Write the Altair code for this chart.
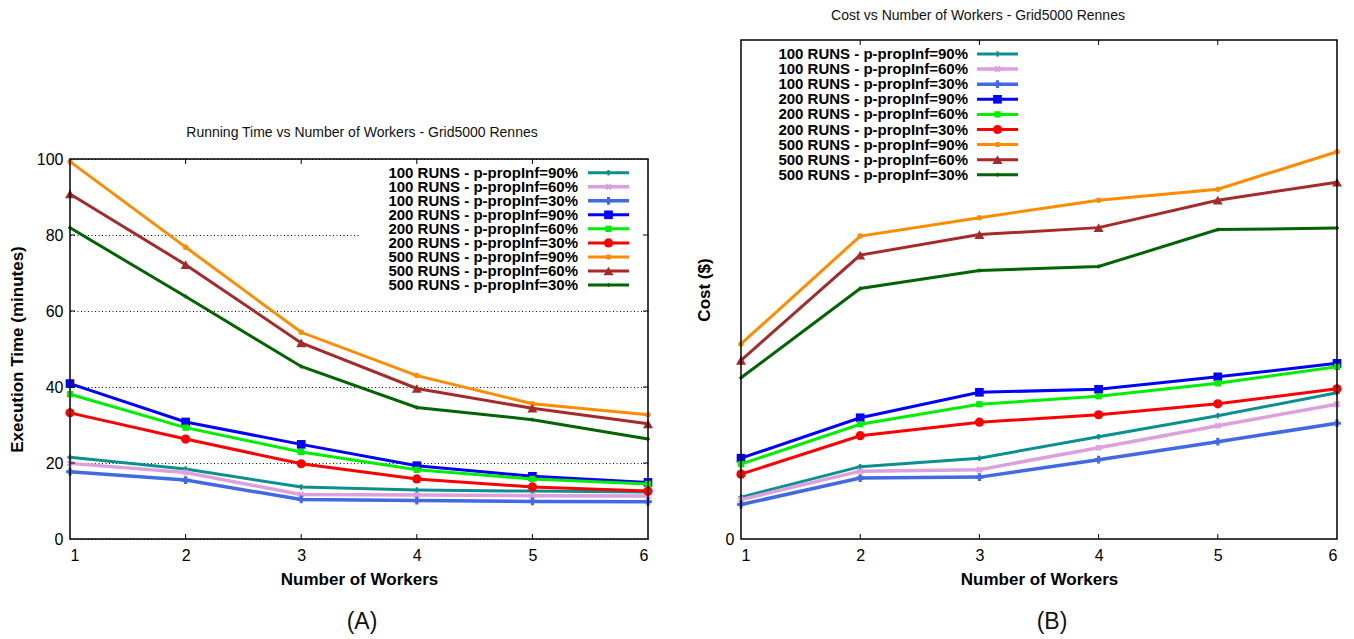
import altair as alt
import pandas as pd

workers = [1, 2, 3, 4, 5, 6]
series_labels = [
    "100 RUNS - p-propInf=90%",
    "100 RUNS - p-propInf=60%",
    "100 RUNS - p-propInf=30%",
    "200 RUNS - p-propInf=90%",
    "200 RUNS - p-propInf=60%",
    "200 RUNS - p-propInf=30%",
    "500 RUNS - p-propInf=90%",
    "500 RUNS - p-propInf=60%",
    "500 RUNS - p-propInf=30%",
]

# Execution time (minutes)
time_100_90 = [21.5, 18.4, 13.7, 12.9, 12.6, 12.4]
time_100_60 = [19.9, 17.5, 11.7, 11.6, 11.4, 11.3]
time_100_30 = [17.7, 15.5, 10.4, 10.1, 9.9, 9.8]
time_200_90 = [40.9, 30.8, 24.9, 19.3, 16.5, 14.9]
time_200_60 = [38.1, 29.3, 22.9, 18.2, 15.8, 14.5]
time_200_30 = [33.2, 26.3, 19.8, 15.8, 13.7, 12.6]
time_500_90 = [99.3, 76.8, 54.4, 43.0, 35.6, 32.7]
time_500_60 = [90.8, 72.2, 51.6, 39.6, 34.4, 30.3]
time_500_30 = [81.9, 63.8, 45.4, 34.6, 31.4, 26.3]

# Cost (relative units, axis shows only 0)
cost_100_90 = [8.4, 14.5, 16.2, 20.5, 24.7, 29.3]
cost_100_60 = [7.9, 13.6, 13.9, 18.3, 22.7, 27.0]
cost_100_30 = [6.9, 12.2, 12.4, 15.9, 19.5, 23.2]
cost_200_90 = [16.2, 24.3, 29.4, 30.0, 32.5, 35.2]
cost_200_60 = [15.0, 23.0, 27.0, 28.6, 31.2, 34.5]
cost_200_30 = [13.0, 20.7, 23.4, 24.9, 27.1, 30.1]
cost_500_90 = [39.1, 60.7, 64.4, 67.9, 70.1, 77.6]
cost_500_60 = [35.8, 56.9, 61.0, 62.4, 67.9, 71.5]
cost_500_30 = [32.3, 50.2, 53.8, 54.6, 62.0, 62.3]

time_series = [time_100_90, time_100_60, time_100_30, time_200_90, time_200_60,
               time_200_30, time_500_90, time_500_60, time_500_30]
cost_series = [cost_100_90, cost_100_60, cost_100_30, cost_200_90, cost_200_60,
               cost_200_30, cost_500_90, cost_500_60, cost_500_30]

time_ticks = [0, 20, 40, 60, 80, 100]
inner_x_ticks = [2, 3, 4, 5]
inner_y_ticks = [20, 40, 60, 80]

colors = ["#0e8f8f", "#dda0dd", "#4169e1", "#0000ff", "#00ee00",
          "#ff0000", "#ff8c00", "#a52a2a", "#006400"]
X_PATH = ("M-0.35,-0.9L0,-0.4L0.35,-0.9L0.9,-0.35L0.4,0L0.9,0.35L0.35,0.9"
          "L0,0.4L-0.35,0.9L-0.9,0.35L-0.4,0L-0.9,-0.35Z")
shapes = ["cross", X_PATH, "cross", "square", "square",
          "circle", "circle", "triangle-up", "cross"]
sizes = [30, 60, 60, 75, 40, 85, 30, 100, 15]
widths = [3, 3.5, 3.5, 3, 3, 3, 3, 3, 3]

FONT = "Liberation Sans"
one = pd.DataFrame({"k": [0]})


def panel(values, width, height, top, ytitle, yvalues, grid, title, title_xy,
          tag, tag_x, lg, bounds, ytitle_pad, left_ticks):
    rows = []
    for lab, vals in zip(series_labels, values):
        for w, v in zip(workers, vals):
            rows.append({"Workers": w, "series": lab, "value": v})
    df = pd.DataFrame(rows)

    x = alt.X("Workers:Q", scale=alt.Scale(domain=[1, 6], nice=False, zero=False),
              axis=alt.Axis(values=workers, format="d", title="Number of Workers",
                            grid=False, labelPadding=8, titlePadding=8))
    y = alt.Y("value:Q", scale=alt.Scale(domain=[0, 100], nice=False, range=[height, top]),
              axis=alt.Axis(values=yvalues, title=ytitle, grid=grid,
                            labelPadding=7, titlePadding=ytitle_pad))

    layers = []
    bx0, bx1, by0, by1 = bounds
    layers.append(alt.Chart(one).mark_rect(fill="white", fillOpacity=0, strokeOpacity=0).encode(
        x=alt.value(bx0), x2=alt.value(bx1), y=alt.value(by0), y2=alt.value(by1)))
    layers.append(alt.Chart(one).mark_text(font=FONT, fontSize=14, color="#111").encode(
        x=alt.value(title_xy[0]), y=alt.value(top + title_xy[1]), text=alt.value(title)))
    layers.append(alt.Chart(one).mark_text(font=FONT, fontSize=23, color="#111").encode(
        x=alt.value(tag_x), y=alt.value(height + 83), text=alt.value(tag)))

    for i, lab in enumerate(series_labels):
        sd = df[df["series"] == lab]
        layers.append(alt.Chart(sd).mark_line(color=colors[i], strokeWidth=widths[i]).encode(x=x, y=y))
        layers.append(alt.Chart(sd).mark_point(color=colors[i], shape=shapes[i], size=sizes[i],
                                               filled=True, opacity=1).encode(x=x, y=y))

    # legend
    tx, r0, r1, pm, ly0, lstep, box = lg
    if box is not None:
        layers.append(alt.Chart(one).mark_rect(fill="white").encode(
            x=alt.value(box[0]), x2=alt.value(box[1]), y=alt.value(top + box[2]),
            y2=alt.value(top + box[3])))
    for i, lab in enumerate(series_labels):
        yy = top + ly0 + i * lstep
        layers.append(alt.Chart(one).mark_text(font=FONT, fontSize=15, fontWeight="bold",
                                               align="right", baseline="middle", color="#000").encode(
            x=alt.value(tx), y=alt.value(yy), text=alt.value(lab)))
        layers.append(alt.Chart(one).mark_rule(color=colors[i], strokeWidth=widths[i]).encode(
            x=alt.value(r0), x2=alt.value(r1), y=alt.value(yy)))
        layers.append(alt.Chart(one).mark_point(color=colors[i], shape=shapes[i], size=sizes[i],
                                                filled=True, opacity=1).encode(
            x=alt.value(pm), y=alt.value(yy)))

    # inward ticks
    xt = pd.DataFrame({"Workers": inner_x_ticks})
    layers.append(alt.Chart(xt).mark_rule(color="#000", strokeWidth=1).encode(
        x=x, y=alt.value(top), y2=alt.value(top + 5)))
    layers.append(alt.Chart(xt).mark_rule(color="#000", strokeWidth=1).encode(
        x=x, y=alt.value(height), y2=alt.value(height - 5)))
    if left_ticks:
        yt = pd.DataFrame({"value": inner_y_ticks})
        layers.append(alt.Chart(yt).mark_rule(color="#000", strokeWidth=1).encode(
            y=y, x=alt.value(0), x2=alt.value(5)))
        layers.append(alt.Chart(yt).mark_rule(color="#000", strokeWidth=1).encode(
            y=y, x=alt.value(width - 5), x2=alt.value(width)))

    # frame
    layers.append(alt.Chart(one).mark_rect(filled=False, stroke="#000", strokeWidth=1.5).encode(
        x=alt.value(0), x2=alt.value(width), y=alt.value(top), y2=alt.value(height)))

    return alt.layer(*layers).properties(width=width, height=height)


LW = 578
RW, H = 596, 499
LTOP = 119

left = panel(time_series, LW, H, LTOP, "Execution Time (minutes)", time_ticks, True,
             "Running Time vs Number of Workers - Grid5000 Rennes", (292, -26),
             "(A)", 292,
             (508, 518, 559, 538.5, 13.7, 14.04, (290, 577, 1, 138)),
             (-70, 607, -40, 599), 10, True)

right = panel(cost_series, RW, H, 0, "Cost ($)", [0], False,
              "Cost vs Number of Workers - Grid5000 Rennes", (237, -24),
              "(B)", 311,
              (227, 236, 277, 256.5, 14, 15.1, None),
              (-64, 613, -40, 599), 12, False)

chart = alt.hconcat(left, right, spacing=0).properties(
    padding={"left": 0, "top": 0, "right": 0, "bottom": 0},
    background="white"
).configure_view(
    stroke="transparent", strokeWidth=0
).configure_axis(
    labelFont=FONT, titleFont=FONT, labelFontSize=16, titleFontSize=17,
    titleFontWeight="bold", labelColor="#000", titleColor="#000",
    ticks=False, domain=False, gridColor="#111", gridDash=[1, 2.5], gridWidth=1,
    gridOpacity=1
)

chart.save("out.html", embed_options={"renderer": "svg", "actions": False})
